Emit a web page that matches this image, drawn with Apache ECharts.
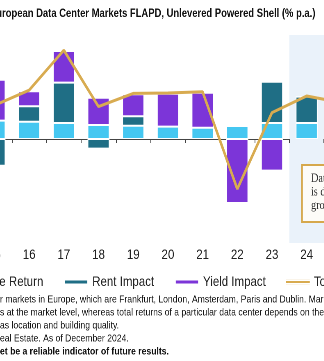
<!DOCTYPE html>
<html><head><meta charset="utf-8">
<script src="https://cdn.jsdelivr.net/npm/echarts@6/dist/echarts.min.js"></script>
<style>
html,body{margin:0;padding:0;background:#fff;width:324px;height:361px;overflow:hidden;position:relative;}
#c{position:absolute;top:0;left:-80px;width:700px;height:361px;transform:scaleX(0.82);transform-origin:0 0;}
</style>
</head><body><div id="c"></div>
<script>
const categories = ['15','16','17','18','19','20','21','22','23','24','25'];
const incomeReturn = [4.6, 4.3, 4.0, 3.5, 3.3, 3.1, 2.8, 3.25, 4.0, 4.0, 4.0];
const rentImpact   = [-6.7, 3.9, 10.1, -2.4, 2.4, 0, 0, 0, 10.3, 6.6, 5.0];
const yieldImpact  = [10.2, 3.75, 7.9, 6.8, 5.5, 8.2, 8.75, -16.0, -7.9, 0, 0];
const totalReturn  = [8.4, 12.2, 22.2, 8.1, 11.4, 11.5, 11.8, -12.5, 6.6, 10.75, 9.1];
const forecastShade = [null, null, null, null, null, null, null, null, null, 1, 1];
const titleText = 'European Data Center Markets FLAPD, Unlevered Powered Shell (% p.a.)';
const footLines = [
  'r markets in Europe, which are Frankfurt, London, Amsterdam, Paris and Dublin. Market',
  's at the market level, whereas total returns of a particular data center depends on the location',
  'as location and building quality.',
  'eal Estate. As of December 2024.',
  'et be a reliable indicator of future results.'
];
const boxLines = ['Data center returns', 'is driven by rent', 'growth'];

const SANS = '"Liberation Sans", Arial, sans-serif';
const SERIF = '"Liberation Serif", "DejaVu Serif", serif';

// page (viewport) x -> chart x, because the chart canvas is compressed horizontally
const S = 0.82, OFF = 80, CW = 700;
const X = vx => (vx + OFF) / S;
const W = vw => vw / S;

const chart = echarts.init(document.getElementById('c'), null, {renderer: 'canvas', devicePixelRatio: 2});

const graphics = [
  {type:'text', x: X(-10), y: 8, style:{text: titleText, font: 'bold 11.5px ' + SANS, fill:'#111'}},
  {type:'rect', shape:{x:X(302), y:165, width:W(60), height:57}, style:{fill:'#fdfcf8', stroke:'#d6a84c', lineWidth:2}, z:10},
];
boxLines.forEach((t,i)=>graphics.push({type:'text', x:X(311), y:172 + i*13.5, style:{text:t, font:'12.5px ' + SERIF, fill:'#333'}, z:11}));
footLines.forEach((t,i)=>graphics.push({type:'text', x:X(0), y:294 + i*13, style:{text:t, font:(i===4?'bold ':'') + '10.5px ' + SANS, fill:'#111'}}));

chart.setOption({
  animation: false,
  grid: {left: X(-22.9), right: CW - X(358.7), top: 35, bottom: 118, containLabel: false},
  legend: {
    left: X(-65), top: 270, itemGap: W(20), itemWidth: W(24), itemHeight: 5, width: 650,
    textStyle: {fontFamily: SANS, fontSize: 14, color: '#222'},
    data: [
      {name:'Income Return', icon:'rect'},
      {name:'Rent Impact', icon:'rect'},
      {name:'Yield Impact', icon:'rect'},
      {name:'Total Return', icon:'path://M0 0H30V0.01H0Z M0 1.5H30V3.5H0Z M0 4.99H30V5H0Z'}
    ]
  },
  xAxis: [
    {type:'category', data: categories, axisLine:{onZero:true, lineStyle:{color:'#444', width:1}},
     axisTick:{show:true, length:4, lineStyle:{color:'#444'}}, axisLabel:{show:false}},
    {type:'category', data: categories, position:'bottom', axisLine:{show:false}, axisTick:{show:false},
     axisLabel:{show:true, margin:5, fontFamily: SANS, fontSize:14, color:'#222'}}
  ],
  yAxis: [
    {type:'value', min:-26, max:26, show:false, splitLine:{show:false}},
    {type:'value', min:0, max:1, show:false, splitLine:{show:false}}
  ],
  series: [
    {name:'Forecast', type:'bar', xAxisIndex:1, yAxisIndex:1, data: forecastShade, barWidth:'100%',
     itemStyle:{color:'#eaf2fa'}, silent:true, z:0},
    {name:'Income Return', type:'bar', stack:'r', data: incomeReturn, barWidth: W(22),
     itemStyle:{color:'#45c7f1', borderColor:'#fff', borderWidth:1}, z:2},
    {name:'Rent Impact', type:'bar', stack:'r', data: rentImpact, barWidth: W(22),
     itemStyle:{color:'#1f6e85', borderColor:'#fff', borderWidth:1}, z:2},
    {name:'Yield Impact', type:'bar', stack:'r', data: yieldImpact, barWidth: W(22),
     itemStyle:{color:'#7c35d8', borderColor:'#fff', borderWidth:1}, z:2},
    {name:'Total Return', type:'line', data: totalReturn, symbol:'none', showSymbol:false,
     lineStyle:{color:'#d8ab50', width:3}, itemStyle:{color:'#d8ab50'}, z:5}
  ],
  graphic: graphics
});
</script></body></html>
